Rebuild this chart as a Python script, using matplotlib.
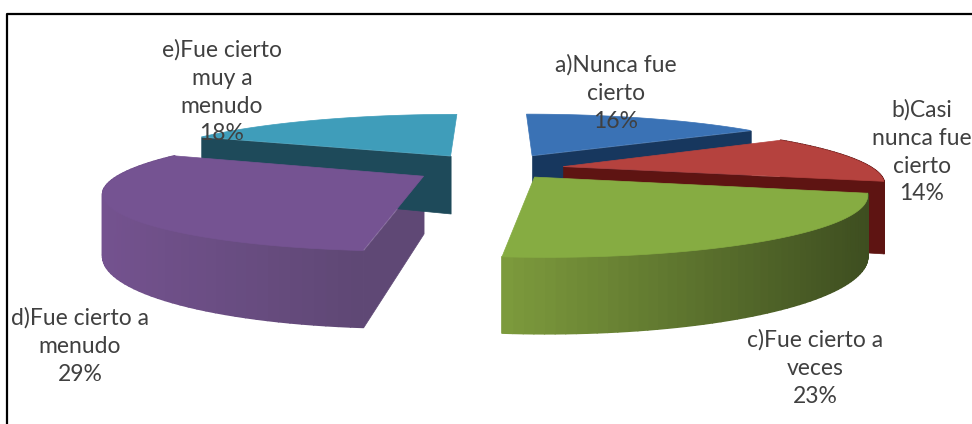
import numpy as np
import matplotlib
matplotlib.use("Agg")
import matplotlib.pyplot as plt
from matplotlib.collections import PolyCollection
from matplotlib.colors import to_rgb

labels = ["a)Nunca fue\ncierto", "b)Casi\nnunca fue\ncierto", "c)Fue cierto a\nveces",
          "d)Fue cierto a\nmenudo", "e)Fue cierto\nmuy a\nmenudo"]
percents = [16, 14, 23, 29, 18]

# colours per slice
top_colors = ["#3A72B5", "#B5423E", "#86AC42", "#755392", "#3F9DBA"]
side_light = ["#17375E", "#5E1412", "#7E9C3D", "#74528F", "#1E4A5A"]
side_dark = ["#17375E", "#5E1412", "#3E4E20", "#5F4875", "#1E4A5A"]

# label anchor in pixels
label_x = [616, 922, 815, 80, 222]
label_y = [93, 152, 368, 346, 92]

# projection of the tilted pie
cx, cy = 495, 167
R, r, persp = 315, 56, 0.25
explode = 0.2
warp = np.radians(5)  # the picture squeezes angles towards the front

# slices are not quite where the explosion puts them
nudge_x = [8, 6, 6, -14, -12]
nudge_y = [-2, 1, 0, 4, -2]
slice_scale = [1, 0.98, 0.97, 0.95, 1]
slice_depth = [60, 68, 54, 56, 60]


def project(X, Y):
    w = 1 + persp * Y
    return cx + R * X / w, cy - r * Y / w, 1 / w


def outline(t, mid):
    # t, mid in radians, clockwise from 12 o'clock
    t = t - warp * np.sin(t / 2) ** 2
    X = explode * np.sin(mid) + np.sin(t)
    Y = explode * np.cos(mid) + np.cos(t)
    return project(X, Y)


def mix(c1, c2, f):
    c1, c2 = np.array(to_rgb(c1)), np.array(to_rgb(c2))
    return c1 + (c2 - c1) * f


fig = plt.figure(figsize=(9.72, 4.24), dpi=100)
ax = fig.add_axes([0, 0, 1, 1])
ax.set_xlim(0, 972)
ax.set_ylim(424, 0)
ax.axis("off")

ax.plot([6.5, 6.5, 972], [424, 14, 14], color="black", lw=1.6)

fracs = np.array(percents) / sum(percents)
edges = np.concatenate([[0], np.cumsum(fracs)]) * 2 * np.pi

for i in [0, 4, 1, 3, 2]:
    t0, t1 = edges[i], edges[i + 1]
    mid = (t0 + t1) / 2
    ts = np.linspace(t0, t1, 60)
    x, y, h = outline(ts, mid)
    h = h * slice_depth[i]
    # apex sits at the exploded centre
    apx, apy, aph = project(explode * np.sin(mid), explode * np.cos(mid))
    aph = aph * slice_depth[i]
    x = apx + (x - apx) * slice_scale[i] + nudge_x[i]
    y = apy + (y - apy) * slice_scale[i] + nudge_y[i]
    apx = apx + nudge_x[i]
    apy = apy + nudge_y[i]

    # radial faces
    faces = []
    if i in (0, 1):
        faces.append([(apx, apy), (x[-1], y[-1]), (x[-1], y[-1] + h[-1]), (apx, apy + aph)])
    if i in (3, 4):
        faces.append([(apx, apy), (x[0], y[0]), (x[0], y[0] + h[0]), (apx, apy + aph)])
    if faces:
        ax.add_collection(PolyCollection(faces, facecolors=side_dark[i], edgecolors=side_dark[i],
                                         lw=0.5, zorder=i + 2))

    # outer wall, only the part of it that faces the viewer
    if i in (1, 2, 3):
        quads, cols = [], []
        for j in range(len(ts) - 1):
            quads.append([(x[j], y[j]), (x[j + 1], y[j + 1]), (x[j + 1], y[j + 1] + h[j + 1]), (x[j], y[j] + h[j])])
            f = (x[j] - x.min()) / (x.max() - x.min())
            cols.append(mix(side_light[i], side_dark[i], f))
        ax.add_collection(PolyCollection(quads, facecolors=cols, edgecolors=cols, lw=1.2, zorder=i + 2))

    ax.fill(np.r_[apx, x], np.r_[apy, y], color=top_colors[i], lw=0.5, zorder=i + 3)

for i in range(5):
    ax.text(label_x[i], label_y[i], f"{labels[i]}\n{percents[i]}%", ha="center", va="center",
            family="Lato", fontsize=16.5, color="#404040", linespacing=1.4, zorder=20)

fig.savefig("out.png", dpi=100)
